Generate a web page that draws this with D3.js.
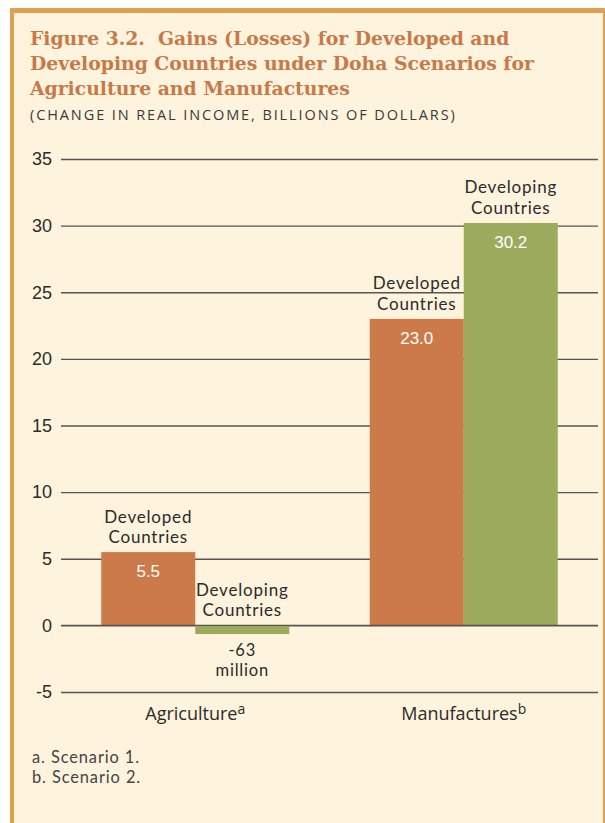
<!doctype html>
<html>
<head>
<meta charset="utf-8">
<style>
    body { margin: 0; background: #fff; }
    svg text { font-family: "Open Sans", Lato, sans-serif; }
    .title { font-family: "DejaVu Serif", serif !important; font-weight: bold; fill: #c8794a; font-size: 18.8px; }
    .subtitle { font-size: 14.5px; letter-spacing: 1.9px; fill: #3a3a3a; }
    .tick text { font-family: "Liberation Sans", Arial, sans-serif !important; font-size: 18px; fill: #2b2b2b; }
    .grid line { stroke: #555; stroke-width: 1.3; }
    .name { font-family: Lato, sans-serif !important; font-size: 17px; letter-spacing: 0.8px; fill: #2b2b2b; }
    .val { font-family: "Liberation Sans", Arial, sans-serif !important; font-size: 17px; fill: #fff; }
    .neg { font-family: Lato, sans-serif !important; font-size: 16.5px; letter-spacing: 0.8px; fill: #2b2b2b; }
    .cat { font-size: 18px; fill: #2b2b2b; }
    .note { font-family: Lato, sans-serif !important; font-size: 16.4px; letter-spacing: 0.9px; fill: #444; }
</style>
</head>
<body>
<svg id="chart"></svg>
<script src="https://cdnjs.cloudflare.com/ajax/libs/d3/7.8.5/d3.min.js"></script>
<script>
    // data
    var categories = ['Agriculture', 'Manufactures'];
    var catMarks = ['a', 'b'];
    var seriesNames = ['Developed', 'Developing'];
    var developed = [5.5, 23.0];
    var developing = [-0.063, 30.2];
    var valueLabels = { Developed: ['5.5', '23.0'], Developing: ['-63|million', '30.2'] };
    var yTicks = [-5, 0, 5, 10, 15, 20, 25, 30, 35];
    var titleLines = ['Figure 3.2.  Gains (Losses) for Developed and',
                      'Developing Countries under Doha Scenarios for',
                      'Agriculture and Manufactures'];
    var subtitle = '(CHANGE IN REAL INCOME, BILLIONS OF DOLLARS)';
    var notes = ['a. Scenario 1.', 'b. Scenario 2.'];

    var width = 605, height = 823;
    var colors = { Developed: '#cc7a4a', Developing: '#9caa5d' };
    var minDepth = 0.65; // tiny loss is drawn as a visible sliver

    var svg = d3.select('#chart').attr('width', width).attr('height', height);

    // panel with orange frame
    svg.append('rect').attr('x', 10).attr('y', 8).attr('width', width - 10).attr('height', height - 8).attr('fill', '#dfa04f');
    svg.append('rect').attr('x', 14).attr('y', 13).attr('width', width - 16).attr('height', height - 13).attr('fill', '#fef3dc');

    svg.selectAll('text.title').data(titleLines).enter().append('text')
        .attr('class', 'title')
        .attr('x', 30).attr('y', function(d, i) { return 45 + i * 25; })
        .attr('xml:space', 'preserve')
        .text(function(d) { return d; });

    svg.append('text').attr('class', 'subtitle').attr('x', 30).attr('y', 120).text(subtitle);

    var x0 = d3.scaleBand().domain(categories).range([61, 598]);
    var x1 = d3.scaleBand().domain(seriesNames).range([0, x0.bandwidth()]).paddingOuter(0.428);
    var y = d3.scaleLinear().domain([-5, 35]).range([692, 159]);

    svg.append('g')
        .attr('class', 'grid')
        .attr('transform', 'translate(61,0)')
        .call(d3.axisLeft(y).tickValues(yTicks).tickSize(-537).tickPadding(9).tickFormat(String))
        .call(function(g) { g.select('.domain').remove(); });

    var rows = [];
    categories.forEach(function(c, i) {
        rows.push({ cat: c, i: i, s: 'Developed', v: developed[i] });
        rows.push({ cat: c, i: i, s: 'Developing', v: developing[i] });
    });
    function drawn(v) { return v < 0 ? Math.min(v, -minDepth) : v; }

    var g = svg.append('g');
    g.selectAll('rect').data(rows).enter().append('rect')
        .attr('x', function(d) { return x0(d.cat) + x1(d.s); })
        .attr('width', x1.bandwidth())
        .attr('y', function(d) { return y(Math.max(0, drawn(d.v))); })
        .attr('height', function(d) { return Math.abs(y(drawn(d.v)) - y(0)); })
        .attr('fill', function(d) { return colors[d.s]; });

    // zero line on top
    svg.append('line').attr('x1', 61).attr('x2', 598).attr('y1', y(0)).attr('y2', y(0))
        .attr('stroke', '#555').attr('stroke-width', 1.3);

    rows.forEach(function(d) {
        var cx = x0(d.cat) + x1(d.s) + x1.bandwidth() / 2;
        var top = y(Math.max(0, d.v));
        [d.s, 'Countries'].forEach(function(p, k) {
            svg.append('text').attr('class', 'name').attr('text-anchor', 'middle')
                .attr('x', cx).attr('y', top - 29.5 + k * 20.5).text(p);
        });
        var lab = valueLabels[d.s][d.i];
        if (d.v >= 0) {
            svg.append('text').attr('class', 'val').attr('text-anchor', 'middle')
                .attr('x', cx).attr('y', top + 25).text(lab);
        } else {
            lab.split('|').forEach(function(p, k) {
                svg.append('text').attr('class', 'neg').attr('text-anchor', 'middle')
                    .attr('x', cx).attr('y', y(drawn(d.v)) + 22 + k * 20).text(p);
            });
        }
    });

    categories.forEach(function(c, i) {
        var t = svg.append('text').attr('class', 'cat').attr('text-anchor', 'middle')
            .attr('x', x0(c) + x0.bandwidth() / 2).attr('y', 720);
        t.append('tspan').text(c);
        t.append('tspan').attr('font-size', 14).attr('dy', -6).text(catMarks[i]);
    });

    svg.selectAll('text.note').data(notes).enter().append('text')
        .attr('class', 'note')
        .attr('x', 32).attr('y', function(d, i) { return 763 + i * 20; })
        .text(function(d) { return d; });
</script>
</body>
</html>
